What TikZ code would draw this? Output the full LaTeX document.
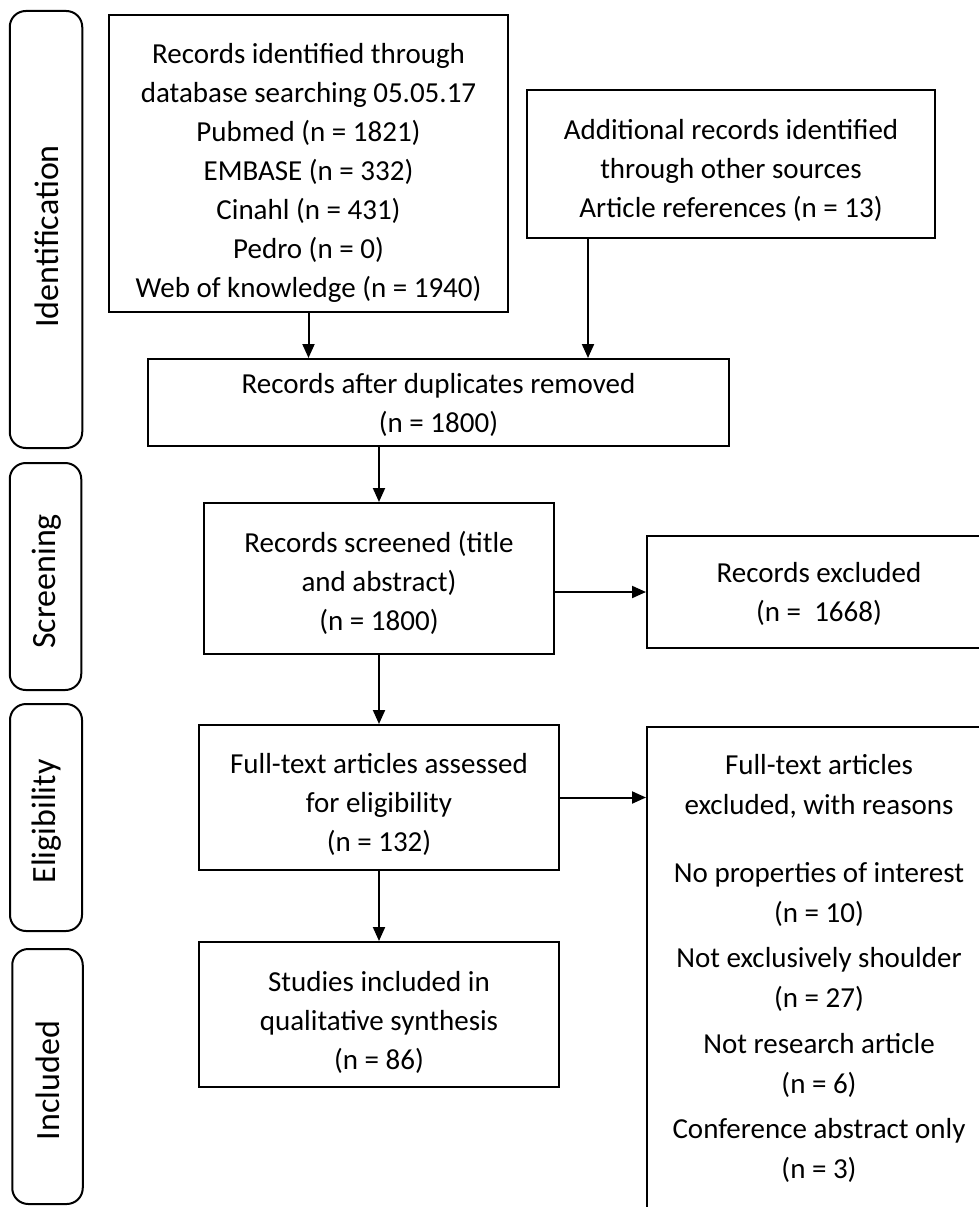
\documentclass[tikz,border=0pt]{standalone}
\usepackage{fontspec}
\setmainfont{Carlito}
\usetikzlibrary{arrows.meta}
\begin{document}
\begin{tikzpicture}[x=1pt,y=-1pt,
  box/.style={draw, line width=2pt, inner sep=0pt},
  txt/.style={inner sep=0pt, align=center, font=\fontsize{29}{39}\selectfont},
  phase/.style={draw, line width=2pt, rounded corners=16pt, inner sep=0pt},
  phasetxt/.style={inner sep=0pt, font=\fontsize{34}{40}\selectfont},
  arr/.style={draw, line width=2pt, -{Triangle[length=14pt,width=12pt]}}
]
\useasboundingbox (0,0) rectangle (979,1207);
\clip (0,0) rectangle (979,1207);

% stage labels down the left side
\node[phase, minimum width=72.5pt, minimum height=437pt,
  label={[phasetxt, xshift=1pt, yshift=-7pt, rotate=90]center:Identification}] (pid) at (46,229.5) {};
\node[phase, minimum width=71.5pt, minimum height=227pt,
  label={[phasetxt, xshift=1pt, yshift=-5pt, rotate=90]center:Screening}] (pscr) at (45.5,576.5) {};
\node[phase, minimum width=72pt, minimum height=227pt,
  label={[phasetxt, xshift=1pt, yshift=-4pt, rotate=90]center:Eligibility}] (pel) at (46,817.5) {};
\node[phase, minimum width=70.5pt, minimum height=255pt,
  label={[phasetxt, xshift=0pt, yshift=-4pt, rotate=90]center:Included}] (pinc) at (47.5,1076.5) {};

% flow boxes
\node[box, minimum width=399pt, minimum height=297pt,
  label={[txt, yshift=-9pt]center:{Records identified through\\database searching 05.05.17\\Pubmed (n = 1821)\\EMBASE (n = 332)\\Cinahl (n = 431)\\Pedro (n = 0)\\Web of knowledge (n = 1940)}}]
  (db) at (308.5,163.5) {};
\node[box, minimum width=408pt, minimum height=148pt,
  label={[txt, yshift=-6pt]center:{Additional records identified\\through other sources\\Article references (n = 13)}}]
  (add) at (731,164) {};
\node[box, minimum width=581pt, minimum height=87pt,
  label={[txt, yshift=-2pt]center:{Records after duplicates removed\\(n = 1800)}}]
  (dup) at (438.5,402.5) {};
\node[box, minimum width=350pt, minimum height=151pt,
  label={[txt, yshift=-4pt]center:{Records screened (title\\and abstract)\\(n = 1800)}}]
  (scr) at (379,578.5) {};
\node[box, minimum width=344pt, minimum height=112pt,
  label={[txt, yshift=-2pt]center:{Records excluded\\(n =~~1668)}}]
  (exc) at (819,592) {};
\node[box, minimum width=360pt, minimum height=145pt,
  label={[txt, yshift=-7pt]center:{Full-text articles assessed\\for eligibility\\(n = 132)}}]
  (full) at (379,797.5) {};
\node[box, minimum width=344pt, minimum height=503pt] (fexc) at (819,978.5) {};
\node[txt, anchor=north, font=\fontsize{29}{40}\selectfont] (fexctext) at (819,754)
  {Full-text articles\\excluded, with reasons\\[28pt]No properties of interest\\(n = 10)\\[5pt]Not exclusively shoulder\\(n = 27)\\[6pt]Not research article\\(n = 6)\\[5pt]Conference abstract only\\(n = 3)};
\node[box, minimum width=360pt, minimum height=145pt,
  label={[txt, yshift=-8pt]center:{Studies included in\\qualitative synthesis\\(n = 86)}}]
  (stud) at (379,1014.5) {};

% connectors
\draw[arr] (db.south) -- (db.south |- dup.north);
\draw[arr] ([xshift=-143pt]add.south) -- ([xshift=-143pt]add.south |- dup.north);
\draw[arr] (scr.north |- dup.south) -- (scr.north);
\draw[arr] (exc.west -| scr.east) -- (exc.west);
\draw[arr] (scr.south) -- (full.north);
\draw[arr] (full.east) -- (full.east -| fexc.west);
\draw[arr] (full.south) -- (stud.north);
\end{tikzpicture}
\end{document}
